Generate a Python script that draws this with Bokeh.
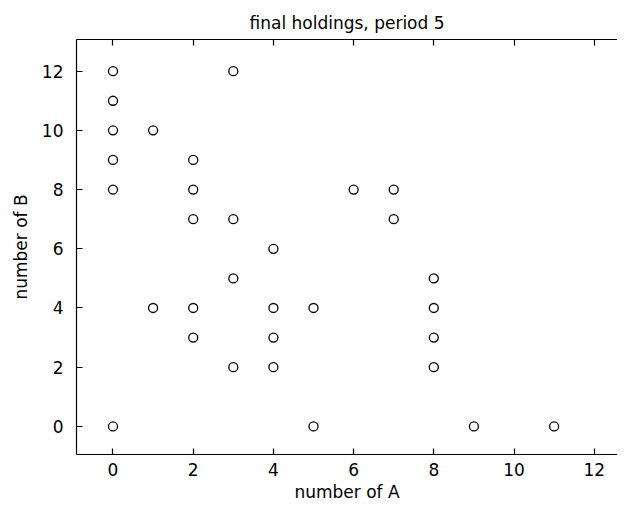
from bokeh.plotting import figure
from bokeh.models import Range1d, LinearAxis, FixedTicker, Title
from bokeh.embed import file_html
from bokeh.resources import INLINE

# data: final holdings, period 5
num_a = [0, 0, 0, 0, 0, 0,
         1, 1,
         2, 2, 2, 2, 2,
         3, 3, 3, 3,
         4, 4, 4, 4,
         5, 5,
         6,
         7, 7,
         8, 8, 8, 8,
         9, 11]
num_b = [12, 11, 10, 9, 8, 0,
         10, 4,
         9, 8, 7, 4, 3,
         12, 7, 5, 2,
         6, 4, 3, 2,
         4, 0,
         8,
         8, 7,
         5, 4, 3, 2,
         0, 0]
tick_vals = [0, 2, 4, 6, 8, 10, 12]

FONT = "DejaVu Sans"
FS = "17px"

p = figure(width=617, height=505, output_backend="svg", toolbar_location=None,
           x_range=Range1d(-0.91, 12.58), y_range=Range1d(-0.95, 13.07),
           min_border_left=76, min_border_right=0, min_border_top=39, min_border_bottom=51,
           background_fill_color="white", border_fill_color="white")
p.outline_line_color = None
p.xgrid.visible = False
p.ygrid.visible = False

p.title = Title(text="final holdings, period 5", align="center", text_font=FONT,
                text_font_size=FS, text_font_style="normal", text_color="black",
                standoff=13)

for ax in (p.xaxis[0], p.yaxis[0]):
    ax.ticker = FixedTicker(ticks=tick_vals)
    ax.major_tick_in = 6
    ax.major_tick_out = 0
    ax.minor_tick_line_color = None
    ax.axis_line_color = "black"
    ax.axis_line_width = 1.2
    ax.major_tick_line_color = "black"
    ax.major_tick_line_width = 1.2
    ax.major_label_text_font = FONT
    ax.major_label_text_font_size = FS
    ax.major_label_text_color = "black"
    ax.axis_label_text_font = FONT
    ax.axis_label_text_font_size = FS
    ax.axis_label_text_font_style = "normal"
    ax.axis_label_text_color = "black"

p.xaxis[0].axis_label = "number of A"
p.yaxis[0].axis_label = "number of B"
p.xaxis[0].major_label_standoff = 8
p.yaxis[0].major_label_standoff = 13
p.xaxis[0].axis_label_standoff = 3
p.yaxis[0].axis_label_standoff = 8

top = LinearAxis(ticker=FixedTicker(ticks=tick_vals),
                 major_label_overrides={t: "" for t in tick_vals},
                 major_tick_in=6, major_tick_out=0, minor_tick_line_color=None,
                 axis_line_color="black", axis_line_width=1.2,
                 major_tick_line_color="black", major_tick_line_width=1.2,
                 major_label_standoff=0)
p.add_layout(top, "above")

p.scatter(num_a, num_b, marker="circle", size=9, fill_color=None,
          line_color="black", line_width=1.3)

open("out.html", "w").write(file_html(p, INLINE))
